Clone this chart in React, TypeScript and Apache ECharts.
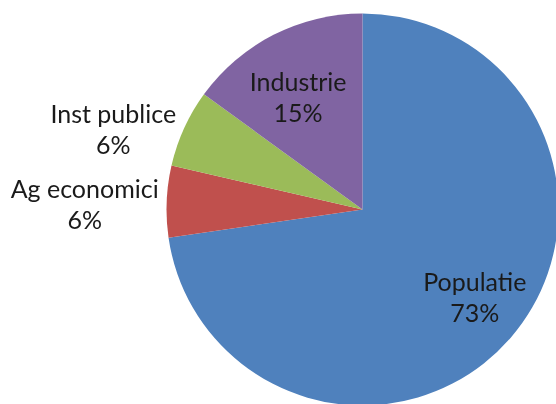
import { useEffect, useRef } from 'react';
import * as echarts from 'echarts';

const categories = ['Populatie', 'Ag economici', 'Inst publice', 'Industrie'];
const values = [72.7, 5.9, 6.4, 15.0];

const colors = ['#4F81BD', '#C0504D', '#9BBB59', '#8064A2'];
const labelInside = [true, false, false, true];
const labelNudge = [
  [10, -1],
  [0, 2],
  [0, 0],
  [-3, 7],
];

const CX = 362.5;
const CY = 209.5;
const R = 196;

export default function App() {
  const ref = useRef<HTMLDivElement>(null);
  useEffect(() => {
    const chart = echarts.init(ref.current!, null, { renderer: 'svg' });
    const total = values.reduce((a, b) => a + b, 0);
    const mids: number[] = [];
    let acc = 0;
    values.forEach((v) => {
      mids.push(((acc + v / 2) / total) * 2 * Math.PI);
      acc += v;
    });
    chart.setOption({
      animation: false,
      series: [
        {
          type: 'pie',
          center: [CX, CY],
          radius: R,
          startAngle: 90,
          clockwise: true,
          silent: true,
          itemStyle: { borderWidth: 0 },
          label: {
            show: true,
            position: 'inside',
            formatter: (p: any) => `${p.name}\n${Math.round((p.value / total) * 100)}%`,
            fontFamily: 'Lato',
            fontSize: 25,
            lineHeight: 31,
            color: '#1a1a1a',
            align: 'center',
          },
          labelLine: { show: false },
          labelLayout: (params: any) => {
            const i = params.dataIndex;
            const a = mids[i];
            const dx = Math.sin(a);
            const dy = -Math.cos(a);
            const [nx, ny] = labelNudge[i];
            if (labelInside[i]) {
              return {
                x: CX + dx * R * 0.69 + nx,
                y: CY + dy * R * 0.69 + ny,
                align: 'center',
                verticalAlign: 'middle',
              };
            }
            const w = params.labelRect.width;
            return {
              x: CX + dx * R - 8 - w / 2 + nx,
              y: CY + dy * R + ny,
              align: 'center',
              verticalAlign: 'middle',
            };
          },
          data: categories.map((name, i) => ({ name, value: values[i], itemStyle: { color: colors[i] } })),
        },
      ],
    });
    return () => chart.dispose();
  }, []);
  return <div ref={ref} style={{ position: 'fixed', left: 0, top: 0, width: 556, height: 404 }} />;
}
